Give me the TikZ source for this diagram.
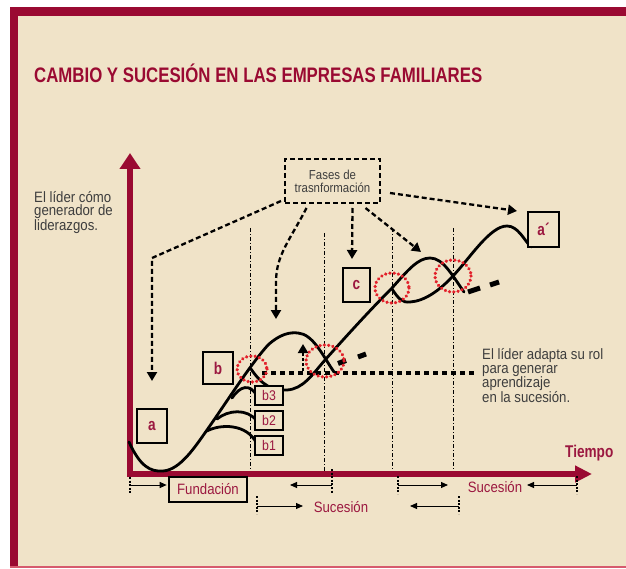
\documentclass[tikz,border=0pt]{standalone}
\usepackage{fontspec}
\setmainfont{Liberation Sans}
\newfontfamily\cond[FakeStretch=0.88]{Liberation Sans}
\newfontfamily\ttl[FakeStretch=0.8]{Liberation Sans}
\usetikzlibrary{arrows.meta}
\definecolor{cream}{HTML}{F0E3C8}
\definecolor{bar}{HTML}{9A0A32}
\definecolor{crim}{HTML}{9B1840}
\definecolor{gtext}{HTML}{3E3E3E}
\definecolor{pinkline}{HTML}{D65A6E}
\definecolor{reddot}{HTML}{E2202A}
\tikzset{
  curve/.style={line width=2.8pt, black, line cap=round},
  lbox/.style={draw=black, line width=2.6pt, fill=cream, inner sep=0pt, text=crim,
     font=\ttl\bfseries\fontsize{17}{17}\selectfont},
  sbox/.style={draw=black, line width=2.2pt, fill=cream, inner sep=0pt, text=crim,
     minimum width=28pt, minimum height=19pt, font=\cond\fontsize{14}{14}\selectfont},
  fasearrow/.style={line width=2.3pt, dash pattern=on 5pt off 3pt, -{Triangle[width=10pt,length=9pt]}},
  dashdotline/.style={line width=0.9pt, dash pattern=on 4pt off 2pt on 1pt off 2pt},
  reddots/.style={draw=reddot, line width=3.6pt, dash pattern=on 0.01pt off 4.3pt, line cap=round},
  thickdash/.style={line width=5pt},
  tickmark/.style={line width=2pt, dash pattern=on 2pt off 1.6pt},
  smallarrow/.style={line width=1pt, -{Triangle[width=6pt,length=7pt]}},
  crimtext/.style={text=crim, inner sep=0pt, font=\cond\fontsize{15}{15}\selectfont},
}
\begin{document}
\begin{tikzpicture}[x=1pt,y=-1pt]
\useasboundingbox (0,0) rectangle (626,569);
% frame
\fill[white] (0,0) rectangle (626,569);
\fill[cream] (10,7) rectangle (626,567);
\fill[bar] (10,7) rectangle (626,16);
\fill[bar] (10,7) rectangle (18,567);
\fill[pinkline] (10,565.5) rectangle (626,567.5);
% title
\node[anchor=west, inner sep=0pt, text=bar, font=\ttl\bfseries\fontsize{21}{21}\selectfont] (title) at (34,73) {CAMBIO Y SUCESIÓN EN LAS EMPRESAS FAMILIARES};
% left text
\node[anchor=north west, align=left, inner sep=0pt, text=gtext, font=\cond\fontsize{15}{13.5}\selectfont] (lt) at (34,191) {El líder cómo\\generador de\\liderazgos.};
% dash-dot verticals
\coordinate (v1t) at (250,228); \coordinate (v1b) at (250,471);
\coordinate (v2t) at (324,233); \coordinate (v2b) at (324,471);
\coordinate (v3t) at (392,228); \coordinate (v3b) at (392,471);
\coordinate (v4t) at (453,228); \coordinate (v4b) at (453,471);
\draw[dashdotline] (v1t) -- (v1b);
\draw[dashdotline] (v2t) -- (v2b);
\draw[dashdotline] (v3t) -- (v3b);
\draw[dashdotline] (v4t) -- (v4b);
% axes
\coordinate (o) at (130,476);
\coordinate (ytip) at (130,153);
\coordinate (xo) at (127,474);
\coordinate (xtip) at (592,474);
\draw[bar, line width=6pt, -{Triangle[width=20pt,length=16pt]}] (o) -- (ytip);
\draw[bar, line width=6pt, -{Triangle[width=16pt,length=17pt]}] (xo) -- (xtip);
\node[anchor=west, inner sep=0pt, text=crim, font=\ttl\bfseries\fontsize{17}{17}\selectfont] (tiempo) at (565,453) {Tiempo};
% Fases box and arrows
\node[draw, line width=2pt, dash pattern=on 5pt off 3pt, minimum width=95pt, minimum height=44pt, inner sep=0pt,
  align=center, text=gtext, font=\cond\fontsize{13}{13}\selectfont] (fases) at (332.5,181) {Fases de\\trasnformación};
\coordinate (c1) at (152,258); \coordinate (t1) at (152,381);
\coordinate (t2) at (276,319);
\coordinate (t3) at (352,259);
\coordinate (t4) at (421,252);
\coordinate (t5) at (517,211);
\draw[fasearrow] ([xshift=-3pt,yshift=3pt]fases.south west) -- (c1) -- (t1);
\draw[fasearrow] ([xshift=-26pt,yshift=-4pt]fases.south) .. controls (290,240) and (276,255) .. (276,282) -- (t2);
\draw[fasearrow] ([xshift=20pt,yshift=-4pt]fases.south) -- (t3);
\draw[fasearrow] ([xshift=33pt,yshift=-4pt]fases.south) -- (t4);
\draw[fasearrow] ([xshift=9pt,yshift=-12pt]fases.east) -- (t5);
% dotted horizontal line and small up arrow
\coordinate (h1) at (262,373); \coordinate (h2) at (477,373);
\draw[line width=3.5pt, dash pattern=on 5pt off 4pt] (h1) -- (h2);
\coordinate (ua) at (303,371); \coordinate (ub) at (303,344);
\draw[line width=2pt, dash pattern=on 3pt off 2pt, -{Triangle[width=10pt,length=9pt]}] (ua) -- (ub);
% curves
\draw[curve] (129,442) .. controls (140,466) and (150,472) .. (163,471)
  .. controls (180,470) and (195,447) .. (207,430)
  .. controls (228,400) and (250,365) .. (268,345)
  .. controls (280,334) and (290,332) .. (298,333)
  .. controls (313,334) and (323,356) .. (334,372);
\draw[curve] (251,369) .. controls (262,385) and (272,391) .. (287,390)
  .. controls (303,389) and (312,375) .. (325,360)
  .. controls (350,332) and (372,308) .. (392,288)
  .. controls (408,270) and (418,258) .. (430,258)
  .. controls (443,258) and (452,275) .. (464,292);
\draw[curve] (392,289) .. controls (398,298) and (402,303) .. (410,302)
  .. controls (425,301) and (440,290) .. (453,276)
  .. controls (470,258) and (490,226) .. (507,226)
  .. controls (518,226) and (524,240) .. (531,247);
% branches
\draw[curve] (232,398) .. controls (240,386) and (250,383) .. (257,396);
\draw[curve] (217,419) .. controls (228,410) and (247,408) .. (257,421);
\draw[curve] (207,431) .. controls (220,424) and (247,423) .. (257,444);
% thick dashes
\draw[thickdash] (338,363.5) -- (346,360.5);
\draw[thickdash] (358,357) -- (366,354);
\draw[thickdash] (468,292) -- (480,288);
\draw[thickdash] (490,285) -- (499,282);
% red dotted ellipses
\draw[reddots] (252,369) ellipse [x radius=15, y radius=13];
\draw[reddots] (325,361) ellipse [x radius=19, y radius=16];
\draw[reddots] (392,288) ellipse [x radius=17, y radius=15];
\draw[reddots] (453,276) ellipse [x radius=18, y radius=16];
% boxes
\node[lbox, minimum width=30pt, minimum height=34pt] (a) at (152,426) {a};
\node[lbox, minimum width=30pt, minimum height=32pt] (b) at (218,368) {b};
\node[lbox, minimum width=27pt, minimum height=34pt] (c) at (356.5,285) {c};
\node[lbox, minimum width=31pt, minimum height=35pt] (ap) at (543.5,229.5) {a´};
\node[sbox] (b3) at (269,395.5) {b3};
\node[sbox] (b2) at (269,420.5) {b2};
\node[sbox] (b1) at (269,445.5) {b1};
% right text
\node[anchor=north west, align=left, inner sep=0pt, text=gtext, font=\cond\fontsize{15}{14.3}\selectfont] (rt) at (482,348) {El líder adapta su rol\\para generar\\aprendizaje\\en la sucesión.};
% bottom: Fundación row
\node[draw=black, line width=2.6pt, minimum width=78pt, minimum height=25pt, inner sep=0pt, crimtext] (fund) at (208,489.5) {Fundación};
\coordinate (k0t) at (130,477); \coordinate (k0b) at (130,494); \coordinate (k0) at (130,485);
\draw[tickmark] (k0t) -- (k0b);
\draw[smallarrow] (k0) -- ([xshift=-1pt]fund.west |- k0);
\coordinate (k1t) at (332,469); \coordinate (k1b) at (332,494); \coordinate (k1) at (332,485); \coordinate (k1e) at (290,485);
\draw[tickmark] (k1t) -- (k1b);
\draw[smallarrow] (k1) -- (k1e);
\coordinate (k2t) at (398,476); \coordinate (k2b) at (398,494); \coordinate (k2) at (398,485); \coordinate (k2e) at (448,485);
\draw[tickmark] (k2t) -- (k2b);
\draw[smallarrow] (k2) -- (k2e);
\node[crimtext] (suc1) at (495,487) {Sucesión};
\coordinate (k3t) at (577,476); \coordinate (k3b) at (577,494); \coordinate (k3) at (577,485); \coordinate (k3e) at (527,485);
\draw[tickmark] (k3t) -- (k3b);
\draw[smallarrow] (k3) -- (k3e);
% second row
\coordinate (m1t) at (257,496); \coordinate (m1b) at (257,514); \coordinate (m1) at (257,506); \coordinate (m1e) at (303,506);
\draw[tickmark] (m1t) -- (m1b);
\draw[smallarrow] (m1) -- (m1e);
\node[crimtext] (suc2) at (341,507) {Sucesión};
\coordinate (m2t) at (459,496); \coordinate (m2b) at (459,514); \coordinate (m2) at (459,506); \coordinate (m2e) at (410,506);
\draw[tickmark] (m2t) -- (m2b);
\draw[smallarrow] (m2) -- (m2e);
\end{tikzpicture}
\end{document}
